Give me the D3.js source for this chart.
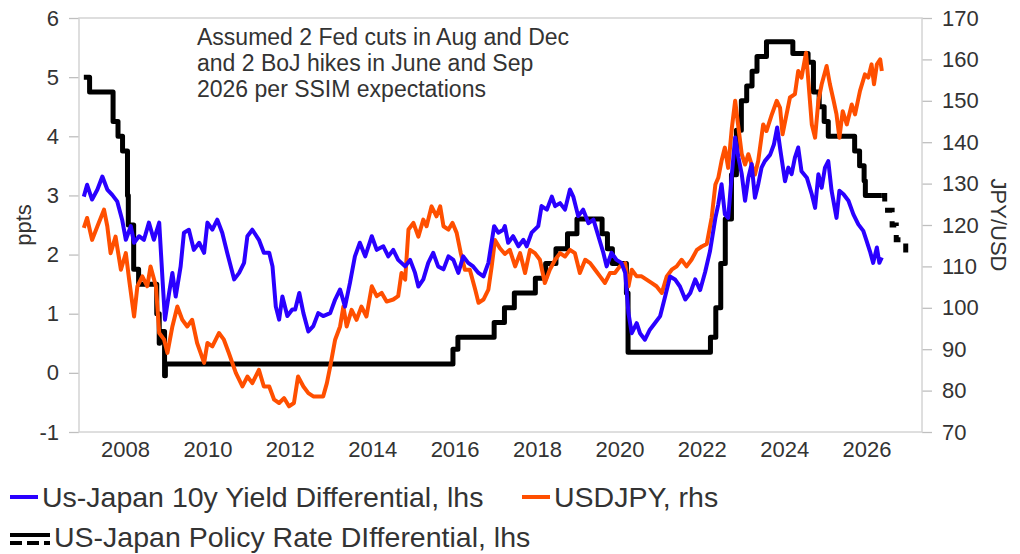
<!DOCTYPE html>
<html>
<head>
<meta charset="utf-8">
<script src="https://cdn.jsdelivr.net/npm/d3@7"></script>
<style>
  body { margin: 0; background: #fff; }
  svg text { font-family: "Liberation Sans", Arial, sans-serif; fill: #333; }
</style>
</head>
<body>
<div id="chart"></div>
<script>
// ---- data (decimal year, value) ----
const yearTicks = [2008, 2010, 2012, 2014, 2016, 2018, 2020, 2022, 2024, 2026];
const leftTicks = [-1, 0, 1, 2, 3, 4, 5, 6];
const rightTicks = [70, 80, 90, 100, 110, 120, 130, 140, 150, 160, 170];

// US-Japan 10y yield differential, ppts (lhs)
const yieldDiff = [
  [2007.0, 2.98], [2007.08, 3.18], [2007.2, 2.93], [2007.33, 3.1], [2007.45, 3.32], [2007.57, 3.1],
  [2007.69, 3.01], [2007.81, 2.9], [2007.93, 2.59], [2008.02, 2.25], [2008.14, 2.48], [2008.22, 2.2],
  [2008.34, 2.31], [2008.46, 2.25], [2008.58, 2.54], [2008.7, 2.25], [2008.83, 2.54], [2008.91, 1.58],
  [2008.97, 0.9], [2009.07, 1.35], [2009.15, 1.69], [2009.23, 1.29], [2009.35, 1.8], [2009.43, 2.37],
  [2009.55, 2.42], [2009.67, 2.08], [2009.8, 2.2], [2009.92, 2.03], [2010.0, 2.54], [2010.12, 2.42],
  [2010.24, 2.59], [2010.36, 2.37], [2010.48, 2.03], [2010.65, 1.58], [2010.77, 1.69], [2010.89, 1.86],
  [2010.97, 2.31], [2011.09, 2.42], [2011.25, 2.25], [2011.37, 2.03], [2011.5, 2.03], [2011.58, 1.8],
  [2011.66, 1.12], [2011.74, 0.9], [2011.82, 1.29], [2011.94, 0.96], [2012.06, 1.07], [2012.13, 1.07],
  [2012.23, 1.35], [2012.33, 1.01], [2012.45, 0.7], [2012.57, 0.79], [2012.69, 1.01], [2012.81, 0.96],
  [2012.98, 1.01], [2013.1, 1.24], [2013.22, 1.41], [2013.34, 1.12], [2013.46, 1.52], [2013.58, 1.97],
  [2013.7, 2.2], [2013.83, 1.97], [2013.99, 2.31], [2014.11, 2.08], [2014.27, 2.14], [2014.39, 1.97],
  [2014.51, 2.08], [2014.63, 1.91], [2014.8, 1.8], [2014.92, 1.91], [2015.04, 1.69], [2015.12, 1.46],
  [2015.24, 1.58], [2015.36, 1.86], [2015.48, 2.03], [2015.6, 1.8], [2015.73, 1.75], [2015.85, 1.97],
  [2015.97, 1.91], [2016.09, 1.69], [2016.21, 1.97], [2016.33, 1.86], [2016.45, 1.8], [2016.58, 1.69],
  [2016.7, 1.63], [2016.82, 1.86], [2016.96, 2.48], [2017.06, 2.37], [2017.18, 2.42], [2017.22, 2.48],
  [2017.3, 2.2], [2017.42, 2.31], [2017.55, 2.14], [2017.67, 2.25], [2017.75, 2.14], [2017.87, 2.37],
  [2018.03, 2.48], [2018.11, 2.82], [2018.24, 2.76], [2018.36, 2.98], [2018.44, 2.82], [2018.56, 2.87],
  [2018.68, 2.76], [2018.8, 3.1], [2018.88, 2.98], [2019.0, 2.65], [2019.12, 2.76], [2019.25, 2.53],
  [2019.37, 2.59], [2019.49, 2.31], [2019.61, 2.03], [2019.69, 1.8], [2019.81, 2.03], [2019.93, 1.91],
  [2020.05, 1.86], [2020.14, 1.69], [2020.22, 1.01], [2020.3, 0.67], [2020.42, 0.84], [2020.5, 0.67],
  [2020.62, 0.56], [2020.74, 0.73], [2020.86, 0.84], [2020.99, 0.96], [2021.11, 1.29], [2021.23, 1.63],
  [2021.35, 1.58], [2021.47, 1.46], [2021.6, 1.24], [2021.72, 1.35], [2021.84, 1.58], [2021.96, 1.4],
  [2022.08, 1.7], [2022.2, 2.06], [2022.33, 2.62], [2022.4, 2.85], [2022.48, 3.19], [2022.56, 2.68],
  [2022.64, 2.62], [2022.73, 3.36], [2022.81, 3.98], [2022.89, 3.64], [2022.97, 3.36], [2023.05, 2.91],
  [2023.13, 3.3], [2023.21, 3.53], [2023.29, 2.96], [2023.37, 3.19], [2023.45, 3.47], [2023.53, 3.58],
  [2023.66, 3.69], [2023.75, 3.86], [2023.83, 4.15], [2023.91, 3.75], [2024.02, 3.24], [2024.1, 3.47],
  [2024.18, 3.36], [2024.26, 3.64], [2024.34, 3.81], [2024.42, 3.41], [2024.55, 3.3], [2024.67, 3.02],
  [2024.75, 2.79], [2024.83, 3.36], [2024.91, 3.13], [2024.99, 3.47], [2025.07, 3.58], [2025.15, 3.08],
  [2025.27, 2.62], [2025.34, 3.08], [2025.44, 3.02], [2025.56, 2.91], [2025.68, 2.68], [2025.8, 2.51],
  [2025.92, 2.4], [2026.0, 2.23], [2026.08, 2.06], [2026.16, 1.86], [2026.25, 2.12], [2026.31, 1.86],
  [2026.37, 1.95]
];

// USDJPY (rhs)
const usdjpy = [
  [2007.0, 119.3], [2007.08, 121.7], [2007.2, 116.4], [2007.33, 119.7], [2007.49, 123.7], [2007.57, 119.7],
  [2007.65, 113.2], [2007.77, 117.2], [2007.9, 109.2], [2008.02, 113.2], [2008.1, 106.8], [2008.22, 97.9],
  [2008.3, 105.2], [2008.42, 107.6], [2008.54, 105.2], [2008.62, 110.0], [2008.75, 105.2], [2008.83, 93.9],
  [2008.95, 92.3], [2009.03, 89.1], [2009.15, 95.5], [2009.27, 100.3], [2009.39, 97.1], [2009.51, 95.5],
  [2009.63, 97.1], [2009.75, 91.5], [2009.92, 86.7], [2010.0, 91.5], [2010.12, 90.7], [2010.28, 93.9],
  [2010.4, 92.3], [2010.52, 89.1], [2010.69, 84.3], [2010.85, 81.0], [2010.97, 83.4], [2011.09, 81.8],
  [2011.25, 85.0], [2011.37, 81.0], [2011.5, 81.0], [2011.62, 77.8], [2011.74, 77.0], [2011.86, 78.2],
  [2011.98, 76.2], [2012.1, 77.0], [2012.2, 83.4], [2012.33, 81.0], [2012.45, 79.4], [2012.57, 78.6],
  [2012.69, 78.6], [2012.81, 78.6], [2012.9, 81.8], [2012.98, 85.8], [2013.1, 92.3], [2013.22, 95.5],
  [2013.3, 100.3], [2013.38, 95.5], [2013.5, 99.5], [2013.62, 97.1], [2013.74, 100.3], [2013.86, 97.9],
  [2013.99, 105.2], [2014.11, 102.8], [2014.23, 103.6], [2014.35, 101.5], [2014.51, 102.0], [2014.63, 102.8],
  [2014.71, 108.4], [2014.8, 106.8], [2014.88, 118.9], [2015.0, 120.5], [2015.12, 117.2], [2015.24, 121.3],
  [2015.32, 119.7], [2015.44, 124.5], [2015.56, 122.1], [2015.65, 124.5], [2015.73, 119.7], [2015.85, 118.9],
  [2015.95, 120.5], [2016.05, 118.1], [2016.15, 113.2], [2016.25, 109.2], [2016.37, 109.2], [2016.5, 104.4],
  [2016.58, 101.2], [2016.7, 102.0], [2016.82, 104.4], [2016.9, 110.0], [2016.98, 116.4], [2017.1, 114.4],
  [2017.22, 113.0], [2017.34, 114.0], [2017.47, 110.0], [2017.59, 113.2], [2017.71, 108.4], [2017.83, 114.0],
  [2017.95, 113.2], [2018.07, 111.6], [2018.19, 106.0], [2018.31, 109.2], [2018.44, 111.6], [2018.56, 113.2],
  [2018.68, 112.4], [2018.8, 114.0], [2018.92, 113.2], [2019.04, 108.4], [2019.17, 111.6], [2019.29, 110.8],
  [2019.41, 109.2], [2019.53, 107.6], [2019.65, 106.0], [2019.77, 108.4], [2019.89, 108.4], [2020.01, 110.0],
  [2020.14, 110.8], [2020.22, 105.2], [2020.3, 109.2], [2020.42, 107.6], [2020.54, 107.6], [2020.66, 106.8],
  [2020.78, 106.0], [2020.9, 105.2], [2021.03, 103.6], [2021.15, 107.6], [2021.27, 109.2], [2021.39, 110.0],
  [2021.51, 111.6], [2021.63, 110.0], [2021.75, 111.6], [2021.88, 114.0], [2022.0, 114.8], [2022.12, 115.4],
  [2022.24, 121.8], [2022.33, 129.8], [2022.4, 131.4], [2022.48, 135.5], [2022.56, 138.7], [2022.64, 133.8],
  [2022.73, 143.5], [2022.81, 150.0], [2022.89, 143.5], [2022.97, 137.1], [2023.05, 134.6], [2023.13, 137.1],
  [2023.21, 134.6], [2023.29, 132.2], [2023.37, 135.5], [2023.49, 144.3], [2023.57, 142.7], [2023.7, 146.7],
  [2023.82, 150.0], [2023.9, 148.3], [2023.96, 141.9], [2024.04, 145.9], [2024.14, 150.8], [2024.26, 151.6],
  [2024.34, 157.2], [2024.42, 155.6], [2024.53, 161.6], [2024.58, 155.6], [2024.67, 144.3], [2024.75, 141.1],
  [2024.83, 150.0], [2024.91, 154.0], [2025.03, 158.4], [2025.11, 154.0], [2025.2, 150.0], [2025.27, 146.7],
  [2025.34, 141.1], [2025.42, 147.5], [2025.52, 144.3], [2025.64, 149.1], [2025.72, 146.7], [2025.84, 152.4],
  [2025.96, 156.4], [2026.04, 155.6], [2026.12, 158.8], [2026.18, 154.0], [2026.25, 158.8], [2026.33, 160.0],
  [2026.37, 157.2]
];

// US-Japan policy rate differential, ppts (lhs) - step changes, actual
const policyDiff = [
  [2007.0, 5.0], [2007.14, 4.75], [2007.71, 4.25], [2007.83, 4.0], [2007.94, 3.75], [2008.06, 3.0],
  [2008.08, 2.5], [2008.21, 1.75], [2008.33, 1.5], [2008.77, 1.0], [2008.83, 0.5], [2008.84, 0.7],
  [2008.96, -0.05], [2008.98, 0.15], [2015.96, 0.4], [2016.08, 0.6], [2016.96, 0.85], [2017.21, 1.1],
  [2017.45, 1.35], [2017.96, 1.6], [2018.21, 1.85], [2018.46, 2.1], [2018.74, 2.35], [2018.97, 2.6],
  [2019.58, 2.35], [2019.71, 2.1], [2019.83, 1.85], [2020.17, 1.35], [2020.21, 0.35], [2022.21, 0.6],
  [2022.34, 1.1], [2022.46, 1.85], [2022.57, 2.6], [2022.72, 3.35], [2022.84, 4.1], [2022.96, 4.6],
  [2023.09, 4.85], [2023.22, 5.1], [2023.34, 5.35], [2023.57, 5.6], [2024.21, 5.4], [2024.58, 5.25],
  [2024.71, 4.75], [2024.85, 4.5], [2024.97, 4.25], [2025.07, 4.0], [2025.71, 3.75], [2025.83, 3.5],
  [2025.94, 3.25], [2025.97, 3.0], [2026.37, 3.0]
];

// assumed path (2 Fed cuts, 2 BoJ hikes in 2026)
const policyFcst = [
  [2026.37, 3.0], [2026.44, 2.75], [2026.62, 2.5], [2026.72, 2.25], [2026.95, 2.0], [2026.97, 2.0]
];

const noteLines = [
  "Assumed 2 Fed cuts in Aug and Dec",
  "and 2 BoJ hikes in June and Sep",
  "2026 per SSIM expectations"
];

// ---- layout ----
const W = 1020, H = 554;
const plot = {left: 79, right: 922, top: 18, bottom: 432};

const svg = d3.select("#chart").append("svg")
  .attr("width", W).attr("height", H);

const x = d3.scaleLinear().domain([2006.883, 2027.345]).range([plot.left, plot.right]);
const yL = d3.scaleLinear().domain([-1, 6]).range([plot.bottom, plot.top]);
const yR = d3.scaleLinear().domain([70, 170]).range([plot.bottom, plot.top]);

// plain hyphen for negatives, like the source chart
const fmt = d => String(d);

// axes
const leftAxis = svg.append("g")
  .attr("transform", `translate(${plot.left},0)`)
  .call(d3.axisLeft(yL).tickValues(leftTicks).tickSize(10).tickSizeOuter(0).tickPadding(10).tickFormat(fmt));
const rightAxis = svg.append("g")
  .attr("transform", `translate(${plot.right},0)`)
  .call(d3.axisRight(yR).tickValues(rightTicks).tickSize(10).tickSizeOuter(0).tickPadding(10).tickFormat(fmt));
const bottomAxis = svg.append("g")
  .attr("transform", `translate(0,${plot.bottom})`)
  .call(d3.axisBottom(x).tickValues(yearTicks).tickSize(0).tickSizeOuter(0).tickPadding(9).tickFormat(fmt));

[leftAxis, rightAxis, bottomAxis].forEach(g => {
  g.select(".domain").remove();
  g.selectAll(".tick line").attr("stroke", "#bfbfbf").attr("stroke-width", 1.3);
  g.selectAll(".tick text").attr("font-size", 22).attr("fill", "#333")
    .style("font-family", "'Liberation Sans', Arial, sans-serif");
});

// plot frame
svg.append("rect")
  .attr("x", plot.left).attr("y", plot.top)
  .attr("width", plot.right - plot.left).attr("height", plot.bottom - plot.top)
  .attr("fill", "none").attr("stroke", "#d4d4d4").attr("stroke-width", 1.5);

// axis titles
svg.append("text")
  .attr("transform", `translate(31,${(plot.top + plot.bottom) / 2}) rotate(-90)`)
  .attr("text-anchor", "middle").attr("font-size", 22).text("ppts");
svg.append("text")
  .attr("transform", `translate(991,${(plot.top + plot.bottom) / 2}) rotate(90)`)
  .attr("text-anchor", "middle").attr("font-size", 22).text("JPY/USD");

// lines
const stepLine = d3.line().x(d => x(d[0])).y(d => yL(d[1])).curve(d3.curveStepAfter);
const lineL = d3.line().x(d => x(d[0])).y(d => yL(d[1]));
const lineR = d3.line().x(d => x(d[0])).y(d => yR(d[1]));

svg.append("path").datum(policyDiff)
  .attr("d", stepLine).attr("fill", "none").attr("stroke", "#000")
  .attr("stroke-width", 5).attr("stroke-linejoin", "round");
svg.append("path").datum(policyFcst)
  .attr("d", stepLine).attr("fill", "none").attr("stroke", "#000")
  .attr("stroke-width", 5).attr("stroke-dasharray", "9,9");

svg.append("path").datum(usdjpy)
  .attr("d", lineR).attr("fill", "none").attr("stroke", "#ff4f00")
  .attr("stroke-width", 4).attr("stroke-linejoin", "round");
svg.append("path").datum(yieldDiff)
  .attr("d", lineL).attr("fill", "none").attr("stroke", "#2a00ff")
  .attr("stroke-width", 4).attr("stroke-linejoin", "round");

// annotation
const note = svg.append("text").attr("font-size", 23).attr("x", 197).attr("y", 45);
note.selectAll("tspan").data(noteLines).join("tspan")
  .attr("x", 197).attr("dy", (d, i) => i === 0 ? 0 : 26).text(d => d);

// legend
const legend = svg.append("g");
legend.append("line").attr("x1", 10).attr("x2", 38).attr("y1", 497).attr("y2", 497)
  .attr("stroke", "#2a00ff").attr("stroke-width", 4);
legend.append("text").attr("x", 42).attr("y", 507).attr("font-size", 28.5)
  .text("Us-Japan 10y Yield Differential, lhs");
legend.append("line").attr("x1", 522).attr("x2", 550).attr("y1", 497).attr("y2", 497)
  .attr("stroke", "#ff4f00").attr("stroke-width", 4);
legend.append("text").attr("x", 554).attr("y", 507).attr("font-size", 28.5)
  .text("USDJPY, rhs");
legend.append("line").attr("x1", 10).attr("x2", 50).attr("y1", 535).attr("y2", 535)
  .attr("stroke", "#000").attr("stroke-width", 4);
legend.append("line").attr("x1", 10).attr("x2", 50).attr("y1", 543).attr("y2", 543)
  .attr("stroke", "#000").attr("stroke-width", 4).attr("stroke-dasharray", "12,5");
legend.append("text").attr("x", 54).attr("y", 547).attr("font-size", 28.5)
  .text("US-Japan Policy Rate DIfferential, lhs");
</script>
</body>
</html>
